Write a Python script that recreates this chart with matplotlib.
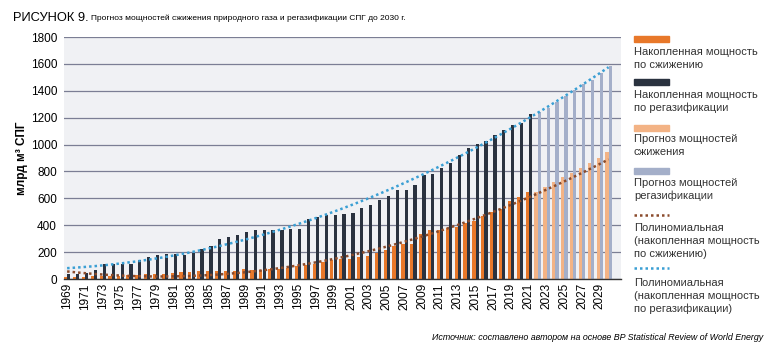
import matplotlib
matplotlib.use('Agg')

import matplotlib.pyplot as plt
import numpy as np
from matplotlib.patches import Rectangle
from matplotlib.lines import Line2D

plt.rcParams['font.family'] = ['Liberation Sans', 'DejaVu Sans']

# Данные (млрд м3 СПГ)
years_hist = list(range(1969, 2022))
years_fc = list(range(2022, 2031))

regas_hist = [40, 37, 44, 69, 114, 114, 114, 114, 143, 161,
              180, 188, 188, 180, 190, 225, 247, 300, 316, 330,
              347, 366, 366, 366, 366, 374, 374, 449, 462, 474,
              476, 483, 490, 526, 550, 587, 616, 660, 660, 698,
              772, 784, 828, 863, 920, 971, 1003, 1025, 1070, 1107,
              1144, 1161, 1225]
liq_hist = [15, 15, 15, 20, 20, 25, 25, 30, 30, 35,
            35, 40, 45, 50, 55, 60, 60, 60, 60, 60,
            72, 67, 67, 72, 77, 80, 97, 101, 114, 124,
            138, 148, 151, 163, 173, 193, 217, 242, 262, 262,
            336, 361, 366, 378, 390, 415, 430, 469, 495, 522,
            583, 613, 648]
regas_fc = [1242, 1275, 1316, 1361, 1408, 1452, 1482, 1531, 1588]
liq_fc = [650, 685, 724, 761, 790, 826, 862, 900, 946]

c_liq = '#e8782a'
c_regas = '#2a323f'
c_liq_fc = '#f3b385'
c_regas_fc = '#a4afc9'
c_trend_liq = '#8a4b2c'
c_trend_regas = '#3a9fd4'

fig = plt.figure(figsize=(7.75, 3.52), dpi=100)
ax = fig.add_axes([64 / 775, 1 - 279 / 352, (621 - 64) / 775, (279 - 37) / 352])
ax.set_facecolor('#f0f1f4')

w = 0.36
ax.bar(np.array(years_hist) - 0.17, liq_hist, width=w, color=c_liq, zorder=2)
ax.bar(np.array(years_hist) + 0.2, regas_hist, width=w, color=c_regas, zorder=2)
ax.bar(np.array(years_fc) - 0.17, liq_fc, width=w, color=c_liq_fc, zorder=2)
ax.bar(np.array(years_fc) + 0.2, regas_fc, width=w, color=c_regas_fc, zorder=2)

# Полиномиальные линии тренда (2-я степень) по фактическим данным
x0 = np.array(years_hist) - 1969
p_liq = np.polyfit(x0, liq_hist, 2)
p_regas = np.polyfit(x0, regas_hist, 2)
xs = np.linspace(0, 61, 200)
ax.plot(xs + 1969, np.polyval(p_liq, xs), color=c_trend_liq, lw=1.8,
        linestyle=(0, (1, 1.2)), zorder=3)
ax.plot(xs + 1969, np.polyval(p_regas, xs), color=c_trend_regas, lw=1.8,
        linestyle=(0, (1, 1.2)), zorder=3)

ax.set_xlim(1968.65, 2031.4)
ax.set_ylim(0, 1800)
ax.set_yticks(range(0, 1801, 200))
ax.set_xticks(range(1969, 2030, 2))
ax.set_xticklabels([str(y) for y in range(1969, 2030, 2)], rotation=90, fontsize=8.5)
ax.tick_params(axis='y', labelsize=8.5, length=0, pad=5)
ax.tick_params(axis='x', length=0, pad=3)
ax.grid(axis='y', color='#7b7e94', lw=0.9, zorder=1)
for s in ['top', 'right', 'left']:
    ax.spines[s].set_visible(False)
ax.spines['bottom'].set_color('#333333')
ax.spines['bottom'].set_linewidth(1.0)
ax.set_ylabel('млрд м³ СПГ', fontsize=8.5, fontweight='bold', labelpad=2)

# Заголовок
fig.text(13 / 775, 1 - 18 / 352, 'РИСУНОК 9.', fontsize=9.3, va='center', ha='left')
fig.text(91 / 775, 1 - 18.5 / 352,
         'Прогноз мощностей сжижения природного газа и регазификации СПГ до 2030 г.',
         fontsize=6.0, va='center', ha='left')

# Легенда
lx = 634 / 775
items = [
    ('patch', c_liq, 39, ['Накопленная мощность', 'по сжижению'], 51.7),
    ('patch', c_regas, 82, ['Накопленная мощность', 'по регазификации'], 95),
    ('patch', c_liq_fc, 128, ['Прогноз мощностей', 'сжижения'], 139),
    ('patch', c_regas_fc, 171, ['Прогноз мощностей', 'регазификации'], 183),
    ('line', c_trend_liq, 215, ['Полиномиальная', '(накопленная мощность', 'по сжижению)'], 228),
    ('line', c_trend_regas, 268, ['Полиномиальная', '(накопленная мощность', 'по регазификации)'], 283),
]
for kind, col, ymark, lines, ytext in items:
    if kind == 'patch':
        fig.add_artist(Rectangle((lx, 1 - (ymark + 3) / 352), 35 / 775, 6 / 352,
                                 transform=fig.transFigure, color=col))
    else:
        fig.add_artist(Line2D([lx, lx + 35 / 775], [1 - ymark / 352] * 2,
                              transform=fig.transFigure, color=col, lw=1.8,
                              linestyle=(0, (1, 1.2))))
    for k, t in enumerate(lines):
        fig.text(lx, 1 - (ytext + k * 12.8) / 352, t, fontsize=8, va='center',
                 ha='left', color='#333333')

# Источник
fig.text(763 / 775, 1 - 337 / 352,
         'Источник: составлено автором на основе BP Statistical Review of World Energy',
         fontsize=6.4, style='italic', va='center', ha='right')

plt.savefig('out.png', dpi=100)
plt.close()
